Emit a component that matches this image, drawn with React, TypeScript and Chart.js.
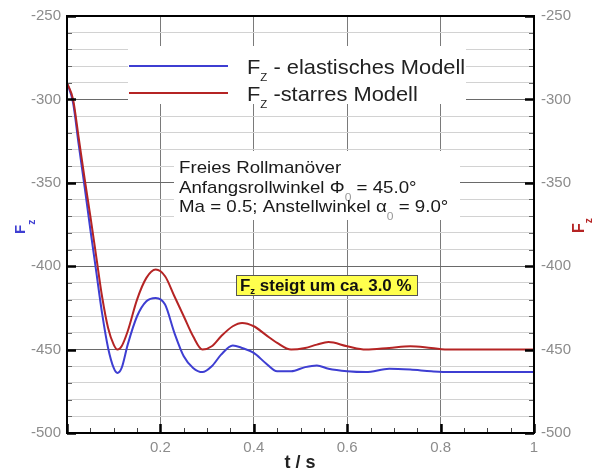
import React, { useEffect, useRef } from 'react';
import { Chart, registerables } from 'chart.js';
Chart.register(...registerables);

// time in seconds
const timeS = [0, 0.013, 0.025, 0.038, 0.05, 0.063, 0.075, 0.088, 0.1, 0.108, 0.117, 0.13, 0.15, 0.17, 0.19, 0.21, 0.23, 0.25, 0.27, 0.29, 0.31, 0.33, 0.355, 0.375, 0.4, 0.425, 0.45, 0.48, 0.51, 0.535, 0.56, 0.6, 0.64, 0.69, 0.735, 0.78, 0.82, 0.9, 0.95, 1.0];
// Fz elastic model (blue)
const fzElastic = [-290, -302, -327, -353, -378, -404, -428, -449, -461, -464, -461, -447, -430, -421, -419, -423, -440, -454, -461, -463.5, -460, -453, -447.5, -449, -452, -458, -463, -463, -460.5, -459.5, -461.5, -463, -463.5, -461.5, -462, -463, -463.5, -463.5, -463.5, -463.5];
// Fz rigid model (red)
const fzRigid = [-290, -300, -323, -348, -370, -395, -418, -437, -447, -450, -448, -439, -420, -407, -402, -406, -418, -430, -442, -450, -448, -442, -436, -434, -436, -441, -446, -450, -449, -447, -445.5, -448, -450, -449, -448, -449, -450, -450, -450, -450];

const yTickLabels = [-250, -300, -350, -400, -450, -500];
const xTickLabels = [0.2, 0.4, 0.6, 0.8, 1];
const legendTexts = [' - elastisches Modell', ' -starres Modell'];
const infoLine1 = 'Freies Rollmanöver';
const infoLine2 = ['Anfangsrollwinkel Φ', '0', ' = 45.0°'];
const infoLine3 = ['Ma = 0.5; Anstellwinkel α', '0', ' = 9.0°'];
const noteText = ['F', 'z', ' steigt um ca. 3.0 %'];

const BLUE = '#3e3ed2';
const RED = '#b52424';
const FONT = '"Liberation Sans", Arial, sans-serif';

type Part = { t: string; sub?: boolean };

function drawRich(ctx: CanvasRenderingContext2D, parts: Part[], x: number, y: number, size: number, weight: string, color: string, subSize: number, subOff: number, subColor?: string, hScale = 1) {
  ctx.save();
  ctx.translate(x, y);
  ctx.scale(hScale, 1);
  let cx = 0;
  for (const p of parts) {
    if (p.sub) {
      ctx.font = `${weight} ${subSize}px ${FONT}`;
      ctx.fillStyle = subColor || color;
      ctx.fillText(p.t, cx, subOff);
    } else {
      ctx.font = `${weight} ${size}px ${FONT}`;
      ctx.fillStyle = color;
      ctx.fillText(p.t, cx, 0);
    }
    cx += ctx.measureText(p.t).width;
  }
  ctx.restore();
}

const overlay = {
  id: 'overlay',
  beforeDatasetsDraw(chart: any) {
    const ctx: CanvasRenderingContext2D = chart.ctx;
    ctx.save();
    ctx.fillStyle = '#ffffff';
    ctx.fillRect(128, 46, 338, 58);
    ctx.fillRect(174, 151, 286, 69);
    ctx.restore();
  },
  afterDatasetsDraw(chart: any) {
    const ctx: CanvasRenderingContext2D = chart.ctx;
    const a = chart.chartArea;
    const xs = chart.scales.x;
    const ys = chart.scales.y;
    ctx.save();
    // inward ticks
    for (let v = -500; v <= -250; v += 10) {
      const py = Math.round(ys.getPixelForValue(v)) + 0.5;
      const major = v % 50 === 0;
      ctx.lineWidth = major ? 2.5 : 1;
      const len = major ? 9 : 5;
      ctx.strokeStyle = major ? '#000' : '#666';
      ctx.beginPath();
      ctx.moveTo(a.left, py); ctx.lineTo(a.left + len, py);
      ctx.moveTo(a.right, py); ctx.lineTo(a.right - len, py);
      ctx.stroke();
    }
    for (let i = 0; i <= 20; i++) {
      const v = i * 0.05;
      const px = Math.round(xs.getPixelForValue(v)) + 0.5;
      const major = i % 4 === 0;
      ctx.lineWidth = major ? 2.5 : 1;
      ctx.strokeStyle = major ? '#000' : '#444';
      const len = major ? 9 : 5;
      ctx.beginPath();
      ctx.moveTo(px, a.bottom); ctx.lineTo(px, a.bottom - len);
      ctx.stroke();
    }
    // frame
    ctx.lineWidth = 2;
    ctx.strokeStyle = '#000';
    ctx.strokeRect(a.left, a.top, a.right - a.left, a.bottom - a.top);

    // legend
    const legendItems = [
      { color: BLUE, text: legendTexts[0], y: 66 },
      { color: RED, text: legendTexts[1], y: 93 },
    ];
    ctx.textBaseline = 'alphabetic';
    ctx.textAlign = 'left';
    for (const it of legendItems) {
      ctx.strokeStyle = it.color;
      ctx.lineWidth = 2;
      ctx.beginPath();
      ctx.moveTo(129, it.y); ctx.lineTo(228, it.y);
      ctx.stroke();
      drawRich(ctx, [{ t: 'F' }, { t: 'Z', sub: true }, { t: it.text }], 247, it.y + 7.5, 21, 'normal', '#222', 11, 7, undefined, 1.04);
    }

    // info text
    drawRich(ctx, [{ t: infoLine1 }], 179, 173, 17, 'normal', '#1a1a1a', 10, 8, undefined, 1.1);
    drawRich(ctx, [{ t: infoLine2[0] }, { t: infoLine2[1], sub: true }, { t: infoLine2[2] }], 179, 193, 17, 'normal', '#1a1a1a', 11, 8, '#999', 1.1);
    drawRich(ctx, [{ t: infoLine3[0] }, { t: infoLine3[1], sub: true }, { t: infoLine3[2] }], 179, 212, 17, 'normal', '#1a1a1a', 11, 8, '#999', 1.1);

    // yellow note
    ctx.fillStyle = '#ffff4d';
    ctx.fillRect(236, 275, 181, 20);
    ctx.strokeStyle = '#555';
    ctx.lineWidth = 1;
    ctx.strokeRect(236.5, 275.5, 181, 20);
    drawRich(ctx, [{ t: noteText[0] }, { t: noteText[1], sub: true }, { t: noteText[2] }], 240, 291, 16, 'bold', '#111', 9, 3, undefined, 1.06);

    // axis titles
    ctx.save();
    ctx.translate(25, 234);
    ctx.rotate(-Math.PI / 2);
    drawRich(ctx, [{ t: 'F' }, { t: 'z', sub: true }], 0, 0, 15, 'bold', BLUE, 10, 10);
    ctx.restore();
    ctx.save();
    ctx.translate(584, 233);
    ctx.rotate(-Math.PI / 2);
    drawRich(ctx, [{ t: 'F' }, { t: 'z', sub: true }], 0, 0, 16, 'bold', RED, 10, 8);
    ctx.restore();

    ctx.font = `bold 18px ${FONT}`;
    ctx.fillStyle = '#222';
    ctx.textAlign = 'center';
    ctx.fillText('t / s', 300, 468);
    ctx.restore();
  },
};

export default function App() {
  const ref = useRef<HTMLCanvasElement>(null);
  useEffect(() => {
    if (!ref.current) return;
    const fmt = (v: number) => String(Number(v.toFixed(2)));
    const chart = new Chart(ref.current, {
      type: 'line',
      data: {
        datasets: [
          {
            label: 'Fz - starres Modell',
            data: timeS.map((t, i) => ({ x: t, y: fzRigid[i] })),
            borderColor: RED,
            borderWidth: 2,
            pointRadius: 0,
            cubicInterpolationMode: 'monotone',
            fill: false,
          },
          {
            label: 'Fz - elastisches Modell',
            data: timeS.map((t, i) => ({ x: t, y: fzElastic[i] })),
            borderColor: BLUE,
            borderWidth: 2,
            pointRadius: 0,
            cubicInterpolationMode: 'monotone',
            fill: false,
          },
        ],
      },
      options: {
        responsive: false,
        animation: false,
        layout: { padding: { top: 14, left: 0, right: 0, bottom: 0 } },
        plugins: { legend: { display: false }, tooltip: { enabled: false }, title: { display: false } },
        scales: {
          x: {
            type: 'linear',
            min: 0,
            max: 1,
            ticks: {
              stepSize: 0.2,
              color: '#8c8c8c',
              font: { family: FONT, size: 15 },
              padding: 6,
              maxRotation: 0,
              autoSkip: false,
              callback: (v: any) => (xTickLabels.some((t) => Math.abs(t - v) < 1e-6) ? fmt(v) : ''),
            },
            grid: {
              drawTicks: false,
              color: '#7a7a7a',
              lineWidth: 1,
            },
            border: { display: false },
            afterFit: (s: any) => { s.height = 39; },
          },
          y: {
            type: 'linear',
            position: 'left',
            min: -500,
            max: -250,
            ticks: {
              stepSize: 10,
              autoSkip: false,
              color: '#8c8c8c',
              font: { family: FONT, size: 15 },
              padding: 6,
              callback: (v: any) => (yTickLabels.includes(Number(v)) ? String(v) : ''),
            },
            grid: {
              drawTicks: false,
              color: (c: any) => (c.tick && Math.abs(c.tick.value % 50) < 1e-6 ? '#6a6a6a' : '#d2d2d2'),
              lineWidth: 1,
            },
            border: { display: false },
            afterFit: (s: any) => { s.width = 67; },
          },
          y2: {
            type: 'linear',
            position: 'right',
            min: -500,
            max: -250,
            ticks: {
              stepSize: 10,
              autoSkip: false,
              color: '#8c8c8c',
              font: { family: FONT, size: 15 },
              padding: 7,
              callback: (v: any) => (yTickLabels.includes(Number(v)) ? String(v) : ''),
            },
            grid: { drawTicks: false, drawOnChartArea: false },
            border: { display: false },
            afterFit: (s: any) => { s.width = 66; },
          },
        },
      } as any,
      plugins: [overlay],
    });
    return () => chart.destroy();
  }, []);
  return (
    <div style={{ position: 'absolute', left: 0, top: 0, width: 600, height: 472, background: '#fff' }}>
      <canvas ref={ref} width={600} height={472} />
    </div>
  );
}
